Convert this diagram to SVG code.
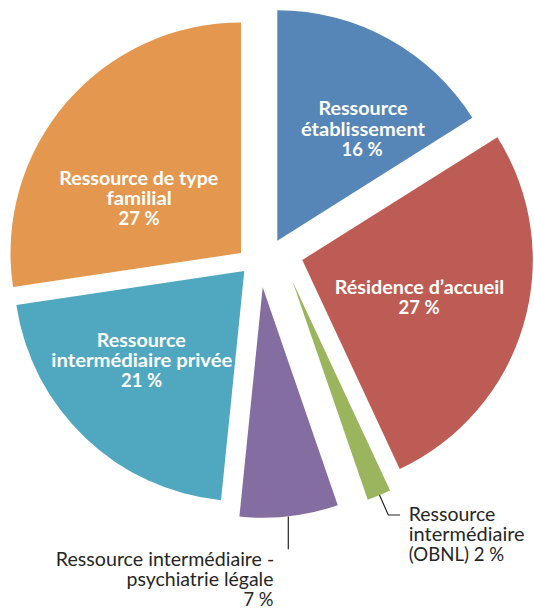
<svg xmlns="http://www.w3.org/2000/svg" width="534" height="609" viewBox="0 0 534 609">
<style>
.in{font-family:Lato,"Liberation Sans",sans-serif;font-weight:bold;font-size:18.6px;fill:#ffffff;text-anchor:middle}
.out{font-family:Lato,"Liberation Sans",sans-serif;font-size:18.6px;fill:#262626}
.lead{fill:none;stroke:#262626;stroke-width:1.2}
</style>
<rect width="534" height="609" fill="#ffffff"/>
<g id="slice-etablissement">
<path d="M277.3,240.7 L277.3,10.2 A230.5,230.5 0 0 1 472.35,117.87 Z" fill="#5686B7"/>
<text class="in" x="363" y="115" textLength="89" lengthAdjust="spacingAndGlyphs">Ressource</text>
<text class="in" x="363" y="135.5" textLength="124" lengthAdjust="spacingAndGlyphs">établissement</text>
<text class="in" x="362" y="155.5" textLength="41" lengthAdjust="spacingAndGlyphs">16 %</text>
</g>
<g id="slice-residence">
<path d="M302.3,260 L497.35,137.17 A230.5,230.5 0 0 1 399.71,468.9 Z" fill="#BD5C54"/>
<text class="in" x="419.5" y="294" textLength="169.5" lengthAdjust="spacingAndGlyphs">Résidence d’accueil</text>
<text class="in" x="419" y="314.3" textLength="41" lengthAdjust="spacingAndGlyphs">27 %</text>
</g>
<g id="slice-obnl">
<path d="M292.7,281.7 L390.11,490.6 A230.5,230.5 0 0 1 367.75,499.64 Z" fill="#9BB45E"/>
<text class="out" x="408.8" y="521" textLength="86.6" lengthAdjust="spacingAndGlyphs">Ressource</text>
<text class="out" x="408.8" y="541" textLength="115.8" lengthAdjust="spacingAndGlyphs">intermédiaire</text>
<text class="out" x="408.8" y="561" textLength="95.3" lengthAdjust="spacingAndGlyphs">(OBNL) 2 %</text>
</g>
<g id="slice-psychiatrie">
<path d="M262.7,287.3 L337.75,505.24 A230.5,230.5 0 0 1 239.4,516.62 Z" fill="#846DA0"/>
<text class="out" x="274.3" y="566" text-anchor="end" textLength="218.5" lengthAdjust="spacingAndGlyphs">Ressource intermédiaire -</text>
<text class="out" x="273.5" y="586" text-anchor="end" textLength="147" lengthAdjust="spacingAndGlyphs">psychiatrie légale</text>
<text class="out" x="273.5" y="606" text-anchor="end" textLength="30" lengthAdjust="spacingAndGlyphs">7 %</text>
</g>
<g id="slice-privee">
<path d="M244.3,271 L221,500.32 A230.5,230.5 0 0 1 16.34,305.07 Z" fill="#4FA8BF"/>
<text class="in" x="141.2" y="346.7" textLength="89" lengthAdjust="spacingAndGlyphs">Ressource</text>
<text class="in" x="141.8" y="366.7" textLength="181" lengthAdjust="spacingAndGlyphs">intermédiaire privée</text>
<text class="in" x="141.5" y="386.7" textLength="41" lengthAdjust="spacingAndGlyphs">21 %</text>
</g>
<g id="slice-familial">
<path d="M241,253 L13.04,287.07 A230.5,230.5 0 0 1 241,22.5 Z" fill="#E3974F"/>
<text class="in" x="138.8" y="185" textLength="159" lengthAdjust="spacingAndGlyphs">Ressource de type</text>
<text class="in" x="139.2" y="205" textLength="65.4" lengthAdjust="spacingAndGlyphs">familial</text>
<text class="in" x="139" y="225" textLength="41" lengthAdjust="spacingAndGlyphs">27 %</text>
</g>
<g id="connectors">
<polyline class="lead" points="379.5,495 388.3,515 400,515"/>
<line class="lead" x1="288.3" y1="516.4" x2="288.3" y2="549.3"/>
</g>
</svg>
